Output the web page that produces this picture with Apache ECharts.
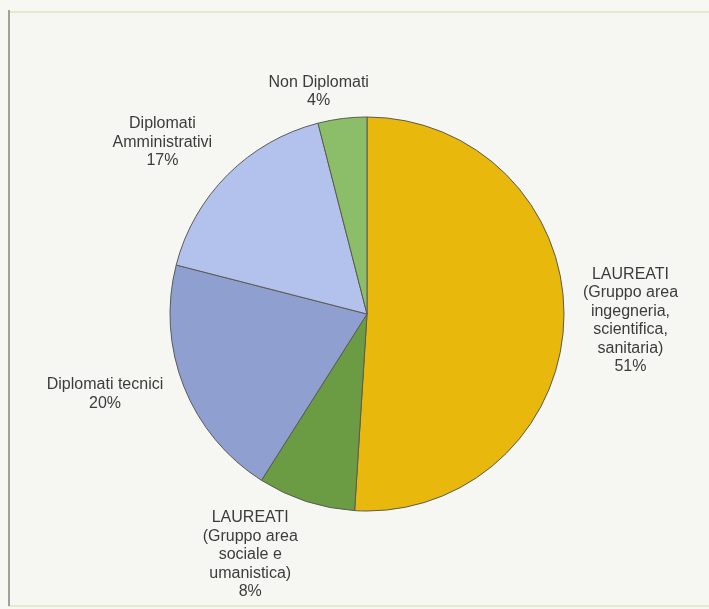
<!DOCTYPE html>
<html>
<head>
<meta charset="utf-8">
<script src="https://cdn.jsdelivr.net/npm/echarts@6/dist/echarts.min.js"></script>
<style>
  html, body { margin: 0; padding: 0; background: #fbfbf8; }
  #chart { width: 709px; height: 609px; }
</style>
</head>
<body>
<div id="chart"></div>
<script>
// ---- data ----
const categories = [
  'LAUREATI\n(Gruppo area\ningegneria,\nscientifica,\nsanitaria)',
  'LAUREATI\n(Gruppo area\nsociale e\numanistica)',
  'Diplomati tecnici',
  'Diplomati\nAmministrativi',
  'Non Diplomati'
];
const values = [51, 8, 20, 17, 4];
const colors = ['#E9B80C', '#6B9B42', '#8E9FD0', '#B3C2EC', '#8CBE6A'];
// label leader geometry (hidden lines) per slice: [length, length2]
const labelLeader = [[10, 4], [56, -14], [20, -3], [46, -22], [27, -35]];

const chart = echarts.init(document.getElementById('chart'), null, { renderer: 'canvas' });

const seriesData = categories.map((name, i) => ({
  name: name,
  value: values[i],
  itemStyle: { color: colors[i] },
  labelLine: { show: false, length: labelLeader[i][0], length2: labelLeader[i][1] }
}));

chart.setOption({
  backgroundColor: '#f7f7f3',
  animation: false,
  graphic: [
    { type: 'rect', shape: { x: 9, y: 12, width: 720, height: 594 },
      style: { fill: '#f6f6f2', stroke: '#e6e9cc', lineWidth: 2 }, z: -10 },
    { type: 'line', shape: { x1: 9, y1: 10, x2: 9, y2: 606 },
      style: { stroke: '#8a8a84', lineWidth: 1.5 }, z: -9 }
  ],
  series: [{
    type: 'pie',
    center: [367, 314],
    radius: 197,
    startAngle: 90,
    clockwise: true,
    avoidLabelOverlap: false,
    itemStyle: { borderColor: '#5b5b52', borderWidth: 1 },
    label: {
      show: true,
      position: 'outside',
      alignTo: 'none',
      distanceToLabelLine: 5,
      formatter: function (p) {
        const lines = p.name.split('\n').concat([p.value + '%']);
        return lines.map(l => '{c|' + l + '}').join('\n');
      },
      rich: {
        c: {
          align: 'center',
          fontFamily: '"Liberation Sans", Arial, sans-serif',
          fontSize: 16,
          lineHeight: 18.5,
          color: '#3c3c3c'
        }
      }
    },
    emphasis: { disabled: true },
    data: seriesData
  }]
});
</script>
</body>
</html>
